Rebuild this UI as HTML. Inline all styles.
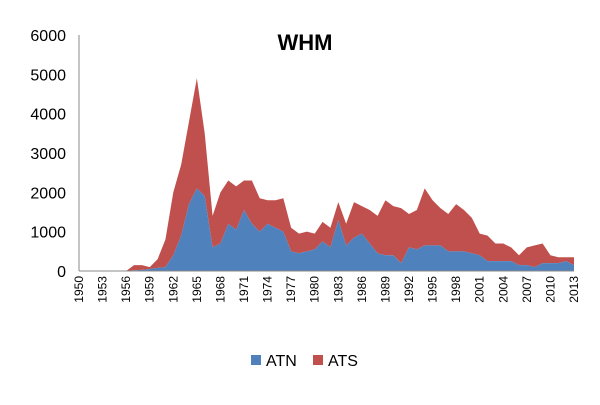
<!DOCTYPE html>
<html><head><meta charset="utf-8"><style>
body{margin:0;background:#fff;font-family:"Liberation Sans",sans-serif}
</style></head><body>
<svg id="c" width="600" height="400" xmlns="http://www.w3.org/2000/svg">
<text x="305" y="50" text-anchor="middle" font-size="22" font-weight="bold" font-family="Liberation Sans, sans-serif">WHM</text>
<g id="plot"></g>
<g>
<rect x="251" y="355" width="10" height="10" fill="#4f81bd"/>
<text x="266" y="366" font-size="16" font-family="Liberation Sans, sans-serif">ATN</text>
<rect x="313" y="355" width="10" height="10" fill="#c0504d"/>
<text x="328" y="366" font-size="16" font-family="Liberation Sans, sans-serif">ATS</text>
</g>
</svg>
<script>
const startYear = 1950;
const atn = [0,0,0,0,0,0,0,20,30,50,80,100,400,900,1700,2100,1900,600,700,1200,1050,1550,1200,1000,1200,1100,1000,500,450,500,550,750,600,1300,650,850,950,700,450,400,400,200,600,550,650,650,650,500,500,500,450,400,250,250,250,250,150,150,100,200,200,200,250,150];
const ats = [0,0,0,0,0,0,0,130,120,50,220,700,1600,1800,2100,2800,1600,800,1300,1100,1100,750,1100,850,600,700,850,600,500,500,400,500,500,450,550,900,700,850,950,1400,1250,1400,850,1000,1450,1150,950,950,1200,1050,900,550,650,450,450,350,250,450,550,500,200,150,100,200];
const yTicks = [0,1000,2000,3000,4000,5000,6000];
const NS="http://www.w3.org/2000/svg";
const g=document.getElementById('plot');
const x0=79,x1=574,y0=271,y1=35,yMax=6000;
const n=atn.length;
const X=i=>x0+(x1-x0)*i/(n-1);
const Y=v=>y0-(y0-y1)*v/yMax;
function mk(t,a){const e=document.createElementNS(NS,t);for(const k in a)e.setAttribute(k,a[k]);g.appendChild(e);return e;}
const topPts=[],midPts=[];
for(let i=0;i<n;i++){midPts.push([X(i),Y(atn[i])]);topPts.push([X(i),Y(atn[i]+ats[i])]);}
const dAts='M'+topPts.map(p=>p.join(',')).join(' L')+' L'+midPts.slice().reverse().map(p=>p.join(',')).join(' L')+'Z';
const p1=mk('path',{d:dAts,fill:'#c0504d'});


const dAtn='M'+X(0)+','+y0+' L'+midPts.map(p=>p.join(',')).join(' L')+' L'+X(n-1)+','+y0+'Z';
const p2=mk('path',{d:dAtn,fill:'#4f81bd'});


const ax=mk('line',{x1:x0,y1:y1,x2:x0,y2:y0,stroke:'#888','stroke-width':1});


const bx=mk('line',{x1:x0,y1:y0,x2:x1,y2:y0,stroke:'#888','stroke-width':1});


yTicks.forEach(v=>{
 const t=mk('text',{x:66,y:Y(v)+6,'text-anchor':'end','font-size':16,'font-family':'Liberation Sans, sans-serif'});
 t.textContent=v;
 
 
});
for(let i=0;i<n;i+=3){
 const xx=X(i)+4,yy=276;
 const t=mk('text',{x:xx,y:yy,'text-anchor':'end','font-size':12,'font-family':'Liberation Sans, sans-serif',transform:`rotate(-90 ${xx} ${yy})`});
 t.textContent=startYear+i;
 
 
}
</script>
</body></html>
